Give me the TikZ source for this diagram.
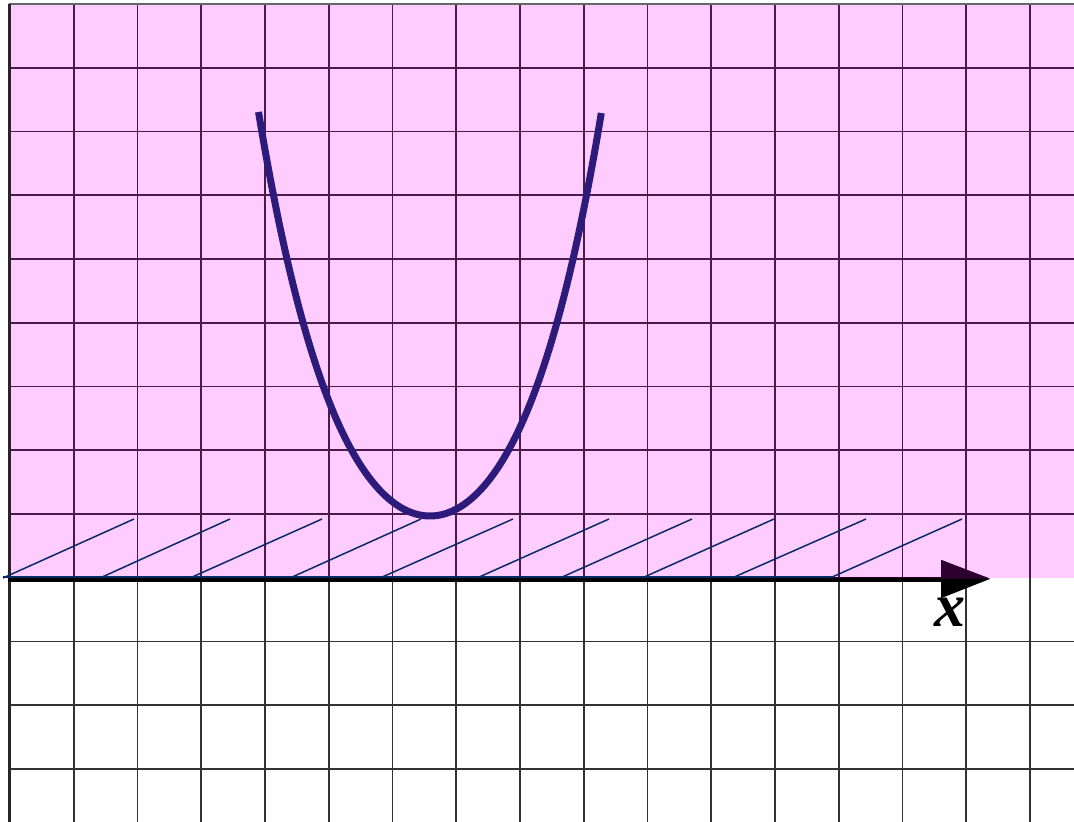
\documentclass[tikz,border=0pt]{standalone}
\usepackage{fontspec}
\setmainfont{Liberation Serif}
\usetikzlibrary{arrows.meta}
\definecolor{pinkbg}{HTML}{FFCCFF}
\definecolor{gridpink}{HTML}{4A1A4A}
\definecolor{gridwhite}{HTML}{333333}
\definecolor{hatchblue}{HTML}{0A2A66}
\definecolor{curveblue}{HTML}{2D1B7B}
\definecolor{axpurple}{HTML}{2E0030}
\tikzset{
  gridp/.style={draw=gridpink, line width=1.8pt},
  gridw/.style={draw=gridwhite, line width=1.8pt},
  hatchline/.style={draw=hatchblue, line width=1.5pt},
  curveline/.style={draw=curveblue, line width=7pt, line join=round},
  axisline/.style={draw=black, line width=5pt},
}
\begin{document}
\begin{tikzpicture}[x=1pt,y=-1pt]
\useasboundingbox (0,0) rectangle (1074,822);
\fill[white] (0,0) rectangle (1074,822);
\fill[pinkbg] (9,4) rectangle (1074,578);
% grid, white zone
\foreach \k in {0,...,16} \draw[gridw] ({10+63.75*\k},578) -- ({10+63.75*\k},822);
\foreach \k in {10,11,12} \draw[gridw] (9,{4+63.75*\k}) -- (1074,{4+63.75*\k});
% grid, pink zone
\foreach \k in {0,...,16} \draw[gridp] ({10+63.75*\k},4) -- ({10+63.75*\k},578);
\foreach \k in {1,...,8} \draw[gridp] (9,{4+63.75*\k}) -- (1074,{4+63.75*\k});
% borders
\draw[draw=gray!80!black, line width=2pt] (9,4) -- (1074,4);
\draw[draw=black!85, line width=3pt] (9,4) -- (9,822);
% x axis
\coordinate (axstart) at (8,579);
\coordinate (axtip) at (990,579);
\draw[axisline, -{Triangle[length=49pt,width=37pt]}] (axstart) -- (axtip);
\fill[axpurple] (9,576.5) rectangle (941,578);
\fill[axpurple] (941,560) -- (990,578.5) -- (941,578.5) -- cycle;
\node[font=\fontsize{62}{62}\selectfont\bfseries\itshape, inner sep=0pt] (xlabel) at (950,612) {x};
% hatching
\draw[hatchline] (3,577) -- (832,577);
\foreach \a/\b in {3/134, 100/230, 190/322, 290/421, 380/513, 477/609, 560/692, 642/774, 732/866, 830/962}
  \draw[hatchline] (\a,578) -- (\b,519);
% parabola
\draw[curveline] plot[domain=-1.715:1.715, samples=120, variable=\u]
  ({430+100*\u}, {516-98.9*\u*\u-13.08*\u*\u*\u*\u});
\end{tikzpicture}
\end{document}
